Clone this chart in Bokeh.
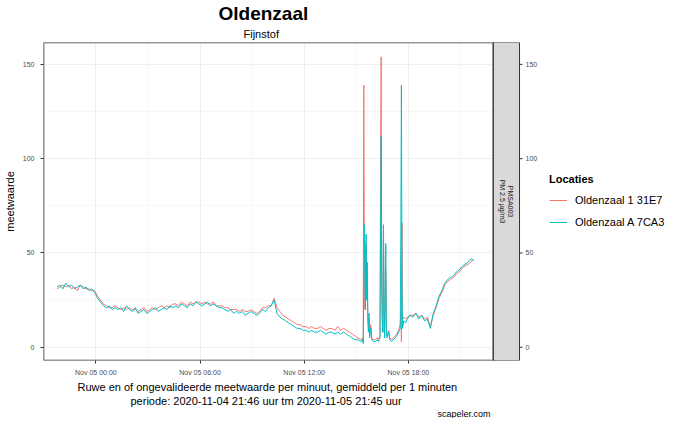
import math
from bokeh.plotting import figure
from bokeh.models import Range1d, FixedTicker, Legend, LegendItem, Title
from bokeh.core.properties import value
from bokeh.embed import file_html
from bokeh.resources import INLINE

# minutes since 2020-11-04 21:46
tick_minutes = [134, 494, 854, 1214]
tick_labels = ["Nov 05 00:00", "Nov 05 06:00", "Nov 05 12:00", "Nov 05 18:00"]
minor_minutes = [-46, 314, 674, 1034, 1394]
y_ticks = [0, 50, 100, 150]

grid_a = list(range(0, 1040, 10))
teal_a = [32, 33, 31, 34, 32, 33, 31, 32, 33, 31, 32, 30, 31, 29,
          26, 24, 22, 21, 22, 20, 21,
          20, 21, 19, 22, 20, 19, 21, 18, 19, 20, 18, 19, 20, 21, 19, 20, 21, 20, 22, 21,
          22, 21, 23, 22, 21, 23, 22, 24, 23, 22, 23, 24, 22, 23, 22, 21,
          21, 20, 19, 20, 18, 19, 18, 19, 17, 18, 19, 18, 17, 18,
          20, 19, 21, 22, 25, 18,
          16, 15, 14, 13, 12, 11, 10, 10, 9,
          9, 8, 9, 8, 8, 9, 8, 7, 8, 8, 7, 8, 7, 8, 7, 6, 5, 4]
red_a = [31, 32, 33, 32, 33, 31, 32, 30, 33, 32, 31, 31, 30, 30,
         27, 25, 23, 22, 21, 21, 22,
         21, 20, 21, 20, 21, 20, 20, 19, 20, 21, 19, 20, 21, 20, 21, 22, 21, 22, 21, 23,
         23, 22, 24, 23, 22, 24, 23, 24, 24, 23, 24, 23, 23, 24, 22, 22,
         22, 21, 21, 20, 20, 20, 19, 20, 19, 19, 20, 19, 18, 19,
         21, 21, 22, 22, 26, 21,
         19, 17, 16, 15, 14, 13, 12, 12, 11,
         11, 10, 11, 10, 10, 11, 10, 9, 10, 10, 9, 11, 9, 10, 9, 8, 7, 6]

grid_b = [1040, 1050, 1055, 1058, 1060, 1062, 1064, 1066, 1068, 1070, 1072, 1074, 1076,
          1078, 1080, 1084, 1088, 1094, 1100, 1106, 1110, 1116, 1118, 1120, 1122, 1124,
          1126, 1128, 1130, 1132, 1136, 1138, 1140, 1146, 1150, 1156, 1162, 1168, 1174,
          1180, 1186, 1188, 1190, 1192, 1194, 1198, 1204,
          1210, 1220, 1230, 1240, 1250, 1260, 1270, 1280, 1290, 1300, 1310, 1320, 1330,
          1340, 1350, 1360, 1370, 1380, 1390, 1400, 1410, 1420, 1430, 1439]
teal_b = [4, 3, 4, 2, 30, 65, 40, 20, 60, 25, 45, 15, 8,
          18, 5, 10, 4, 3, 3, 4, 3, 5, 60, 112, 30, 12,
          8, 65, 20, 5, 55, 10, 5, 8, 4, 3, 4, 5, 6,
          8, 10, 60, 139, 30, 10, 14, 13,
          15, 17, 16, 18, 15, 17, 14, 15, 10, 18, 22, 27, 30,
          34, 36, 37, 38, 40, 41, 43, 44, 45, 47, 46]
red_b = [5, 4, 5, 3, 139, 50, 20, 50, 55, 35, 30, 18, 10,
         15, 6, 12, 4, 4, 4, 5, 4, 6, 100, 154, 40, 15,
         8, 60, 25, 6, 40, 12, 6, 9, 5, 4, 5, 6, 7,
         9, 12, 20, 3, 66, 15, 16, 15,
         16, 17, 17, 18, 16, 17, 15, 16, 11, 17, 21, 26, 29,
         33, 35, 36, 37, 39, 40, 42, 43, 44, 45, 47]

minutes = grid_a + grid_b
teal = teal_a + teal_b
red = red_a + red_b

# 3.478 minutes per pixel; frame extends right to hold axis and legend
mpp = 3.478
x_lo, panel_x, strip_x, x_hi = -47, 1507.8, 1598.2, 2137.3
y_lo, y_hi = -7, 161.6

p = figure(frame_width=632, frame_height=318, output_backend="svg", toolbar_location=None,
           x_range=Range1d(x_lo, x_hi), y_range=Range1d(y_lo, y_hi),
           min_border_left=30, min_border_right=0, min_border_top=0,
           min_border_bottom=0, outline_line_color=None,
           background_fill_color="white")

font = "Liberation Sans"
p.title.text = "Oldenzaal"
p.title.text_font = font
p.title.text_color = "black"
p.title.text_font_style = "bold"
p.title.text_font_size = "19px"
p.title.align = "left"
p.title.offset = 175
p.title.standoff = 0
p.add_layout(Title(text="Fijnstof", text_font=font, text_font_size="11px",
                   text_color="black", text_font_style="normal", align="left",
                   offset=200, standoff=5), "above")

p.xaxis.ticker = FixedTicker(ticks=tick_minutes, minor_ticks=minor_minutes)
p.xaxis.major_label_overrides = dict(zip(tick_minutes, tick_labels))
p.yaxis.axis_label = "meetwaarde"
p.yaxis.ticker = FixedTicker(ticks=y_ticks, minor_ticks=[25, 75, 125])
for ax in p.axis:
    ax.axis_line_color = None
    ax.major_tick_line_color = "#333333"
    ax.major_tick_in = 0
    ax.major_tick_out = 3
    ax.minor_tick_line_color = None
    ax.major_label_text_font = font
    ax.major_label_text_font_size = "7px"
    ax.major_label_text_color = "#4d4d4d"
    ax.axis_label_text_font = font
    ax.axis_label_text_font_size = "11px"
    ax.axis_label_text_color = "black"
    ax.axis_label_text_font_style = "normal"
    ax.axis_label_standoff = 4
p.xaxis.major_label_standoff = 4

p.grid.grid_line_color = "#ebebeb"
p.grid.minor_grid_line_color = "#f2f2f2"
p.grid.minor_grid_line_width = 0.6
p.grid.grid_line_width = 0.8

red_r = p.line(minutes, red, color="#F8766D", line_width=1)
teal_r = p.line(minutes, teal, color="#00BFC4", line_width=1)

# blank the area right of the strip, panel border, facet strip
p.quad(left=[strip_x], right=[x_hi], bottom=[y_lo], top=[y_hi],
       fill_color="white", line_color=None)
p.quad(left=[x_lo], right=[panel_x], bottom=[y_lo], top=[y_hi],
       fill_color=None, line_color="#333333", line_width=1.6)
p.quad(left=[panel_x], right=[strip_x], bottom=[y_lo], top=[y_hi],
       fill_color="#d9d9d9", line_color="#333333", line_width=1)
p.text(x=[(panel_x + strip_x) / 2], y=[(y_lo + y_hi) / 2],
       text=["PMSA003\nPM 2.5 \u00b5g/m3"], angle=-math.pi / 2,
       text_align="center", text_baseline="middle", text_font=value(font),
       text_font_size="7px", text_color="#1a1a1a", text_line_height=1.1)

# right-hand y axis next to the strip
p.segment(x0=[strip_x] * len(y_ticks), y0=y_ticks,
          x1=[strip_x + 3 * mpp] * len(y_ticks), y1=y_ticks,
          line_color="#333333", line_width=1)
p.text(x=[strip_x + 6 * mpp] * len(y_ticks), y=y_ticks, text=[str(t) for t in y_ticks],
       text_align="left", text_baseline="middle", text_font=value(font),
       text_font_size="7px", text_color="#4d4d4d")

legend = Legend(items=[LegendItem(label="Oldenzaal 1 31E7", renderers=[red_r]),
                       LegendItem(label="Oldenzaal A 7CA3", renderers=[teal_r])],
                title="Locaties", title_text_font=font, title_text_font_style="bold",
                title_text_font_size="11px", title_text_color="black",
                label_text_font=font, label_text_color="black",
                label_text_font_size="11px", border_line_color=None,
                background_fill_alpha=0, location=(506, 128),
                glyph_width=18, label_standoff=8, spacing=2, padding=4)
p.add_layout(legend, "center")

p.add_layout(Title(text="Ruwe en of ongevalideerde meetwaarde per minuut, gemiddeld per 1 minuten",
                   text_font=font, text_font_size="11px", text_font_style="normal",
                   text_color="black", align="left", offset=34, standoff=0), "below")
p.add_layout(Title(text="periode: 2020-11-04 21:46 uur tm 2020-11-05 21:45 uur",
                   text_font=font, text_font_size="11px", text_font_style="normal",
                   text_color="black", align="left", offset=87, standoff=0), "below")
p.add_layout(Title(text="scapeler.com", text_font=font, text_font_size="9px",
                   text_font_style="normal", text_color="black", align="left",
                   offset=394, standoff=0), "below")

open("out.html", "w").write(file_html(p, INLINE))
